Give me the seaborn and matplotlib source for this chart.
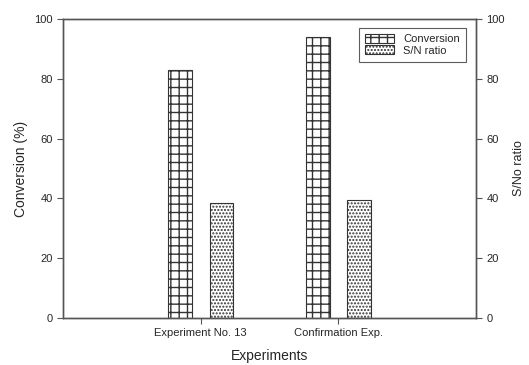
import matplotlib
matplotlib.use("Agg")
import matplotlib.pyplot as plt
import pandas as pd
import seaborn as sns

# Data
experiments = ["Experiment No. 13", "Confirmation Exp."]
conversion = [83, 94]
sn_ratio = [38.5, 39.5]
series_names = ["Conversion", "S/N ratio"]

df = pd.DataFrame({
    "Experiments": experiments * 2,
    "value": conversion + sn_ratio,
    "series": [series_names[0]] * 2 + [series_names[1]] * 2,
})

sns.set_style("ticks")
plt.rcParams["font.family"] = ["Liberation Sans", "DejaVu Sans"]
plt.rcParams["hatch.linewidth"] = 1.0

fig = plt.figure(figsize=(5.29, 3.65), dpi=100)
ax = fig.add_axes([0.119, 0.129, 0.781, 0.819])

sns.barplot(data=df, x="Experiments", y="value", hue="series",
            width=0.6, gap=0.43, palette=["white", "white"],
            edgecolor="#333333", linewidth=0.8, ax=ax, legend=False)

hatches = {"Conversion": "++", "S/N ratio": "....."}
for container, name in zip(ax.containers, series_names):
    for bar in container:
        bar.set_hatch(hatches[name])

ax.set_xlim(-1.0, 2.0)
ax.set_ylim(0, 100)
ax.set_yticks([0, 20, 40, 60, 80, 100])
ax.set_xlabel("Experiments", fontsize=10, labelpad=8)
ax.set_ylabel("Conversion (%)", fontsize=10)
ax.tick_params(labelsize=8, length=4, color="#555555")

ax2 = ax.twinx()
ax2.set_ylim(0, 100)
ax2.set_yticks([0, 20, 40, 60, 80, 100])
ax2.set_ylabel("S/No ratio", fontsize=9, labelpad=6)
ax2.tick_params(labelsize=8, length=4, color="#555555")

for a in (ax, ax2):
    for sp in a.spines.values():
        sp.set_visible(True)
        sp.set_color("#555555")
        sp.set_linewidth(1.0)

handles = [c.patches[0] for c in ax.containers]
leg = ax.legend(handles, series_names, loc="upper right", fontsize=8,
                frameon=True, fancybox=False, edgecolor="#333333",
                handlelength=2.6, handleheight=0.8,
                borderpad=0.6, labelspacing=0.1,
                bbox_to_anchor=(0.99, 0.99))
leg.get_frame().set_linewidth(0.8)

fig.savefig("out.png", dpi=100)
